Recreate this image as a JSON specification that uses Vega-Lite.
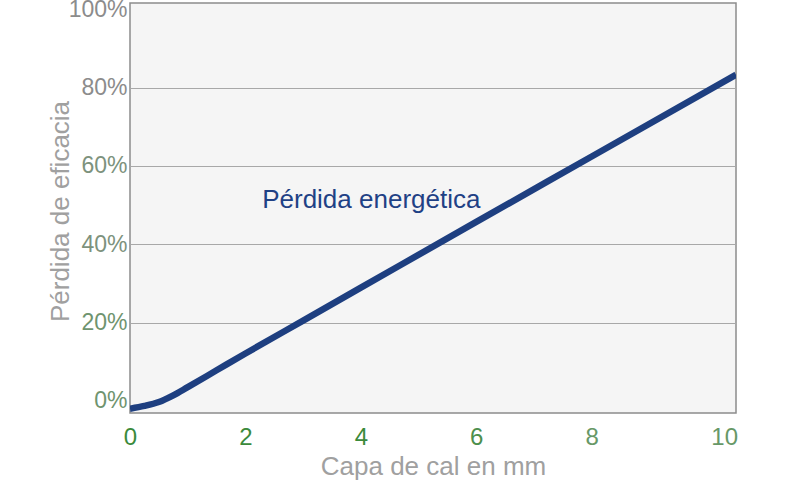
{
  "$schema": "https://vega.github.io/schema/vega-lite/v6.json",
  "width": 606,
  "height": 410,
  "autosize": "none",
  "padding": {"left": 130, "top": 3, "right": 64, "bottom": 67},
  "background": "white",
  "datasets": {
    "curve": [
      {"x": 0, "y": -2.0},
      {"x": 0.25, "y": -1.3},
      {"x": 0.5, "y": -0.3},
      {"x": 0.75, "y": 1.4},
      {"x": 1, "y": 3.5},
      {"x": 1.5, "y": 7.8},
      {"x": 2, "y": 12.1},
      {"x": 3, "y": 20.5},
      {"x": 4, "y": 28.9},
      {"x": 6, "y": 45.7},
      {"x": 8, "y": 62.4},
      {"x": 10.5, "y": 83.3}
    ],
    "note": [{"x": 2.29, "y": 51.4, "label": "Pérdida energética"}]
  },
  "layer": [
    {
      "data": {"name": "curve"},
      "mark": {"type": "line", "color": "#1e3f80", "strokeWidth": 6.5, "interpolate": "monotone", "clip": true},
      "encoding": {
        "x": {
          "field": "x",
          "type": "quantitative",
          "scale": {"domain": [0, 10.5], "nice": false, "zero": false},
          "axis": {
            "title": "Capa de cal en mm",
            "values": [0, 2, 4, 6, 8, 10],
            "format": "d",
            "grid": false,
            "domain": false,
            "ticks": false,
            "labelFontSize": 24,
            "labelPadding": 12,
            "labelFlush": false,
            "labelColor": {
              "condition": [
                {"test": "datum.value <= 4", "value": "#3b8a3b"},
                {"test": "datum.value == 6", "value": "#4d8f4d"}
              ],
              "value": "#679867"
            },
            "labelOffset": {"condition": {"test": "datum.value == 10", "value": 17}, "value": 0},
            "titleFontSize": 26,
            "titleFontWeight": "normal",
            "titleColor": "#a0a0a0",
            "titlePadding": 4
          }
        },
        "y": {
          "field": "y",
          "type": "quantitative",
          "scale": {"domain": [-3.1, 101.6], "nice": false, "zero": false},
          "axis": {
            "title": "Pérdida de eficacia",
            "values": [0, 20, 40, 60, 80, 100],
            "labelExpr": "datum.value + '%'",
            "grid": true,
            "gridColor": "#a8a8a8",
            "gridOpacity": {"condition": {"test": "datum.value == 0 || datum.value == 100", "value": 0}, "value": 1},
            "domain": false,
            "ticks": false,
            "labelFontSize": 23,
            "labelPadding": 3,
            "labelBaseline": "middle",
            "labelColor": {
              "condition": [
                {"test": "datum.value >= 80", "value": "#8c8c8c"},
                {"test": "datum.value >= 40", "value": "#7d927d"}
              ],
              "value": "#6f946f"
            },
            "titleFontSize": 26,
            "titleFontWeight": "normal",
            "titleColor": "#a0a0a0",
            "titleX": -62,
            "titleY": 208,
            "titleAngle": 270,
            "titleAlign": "center",
            "titleBaseline": "alphabetic"
          }
        }
      }
    },
    {
      "data": {"name": "note"},
      "mark": {"type": "text", "align": "left", "baseline": "middle", "fontSize": 26, "color": "#1f4185"},
      "encoding": {
        "x": {"field": "x", "type": "quantitative"},
        "y": {"field": "y", "type": "quantitative"},
        "text": {"field": "label"}
      }
    }
  ],
  "config": {
    "font": "Liberation Sans",
    "view": {"fill": "#f5f5f5", "stroke": "#8c8c8c", "strokeWidth": 1.5}
  }
}
